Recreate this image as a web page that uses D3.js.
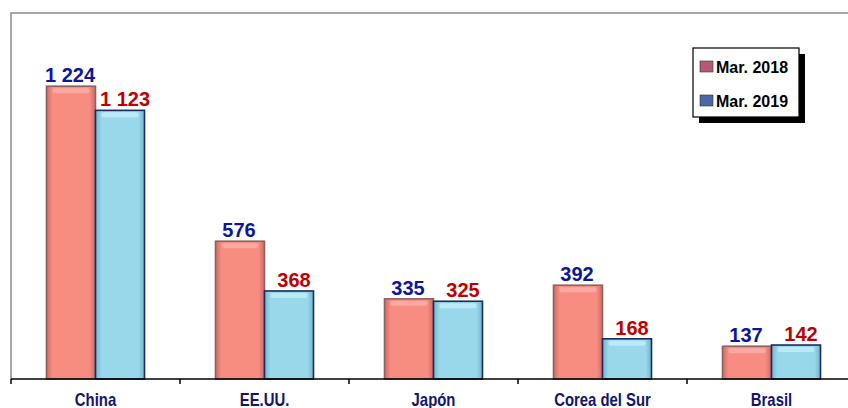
<!DOCTYPE html>
<html>
<head>
<meta charset="utf-8">
<script src="https://cdn.jsdelivr.net/npm/d3@7"></script>
<style>
  html, body { margin: 0; padding: 0; background: #fff; }
  svg { display: block; }
</style>
</head>
<body>
<div id="chart"></div>
<script>
// datos
const categories = ['China', 'EE.UU.', 'Japón', 'Corea del Sur', 'Brasil'];
const seriesNames = ['Mar. 2018', 'Mar. 2019'];
const values2018 = [1224, 576, 335, 392, 137];
const values2019 = [1123, 368, 325, 168, 142];
const valueLabels2018 = ['1 224', '576', '335', '392', '137'];
const valueLabels2019 = ['1 123', '368', '325', '168', '142'];

const W = 848, H = 408;
const plot = { left: 11, top: 13, right: 856, bottom: 379 };

const svg = d3.select('#chart').append('svg')
  .attr('width', W).attr('height', H);

const defs = svg.append('defs');

// gradiente tipo "bisel" para cada serie
function bevel(id, base, edge) {
  const g = defs.append('linearGradient').attr('id', id)
    .attr('x1', 0).attr('x2', 1).attr('y1', 0).attr('y2', 0);
  g.append('stop').attr('offset', '0%').attr('stop-color', edge);
  g.append('stop').attr('offset', '12%').attr('stop-color', base);
  g.append('stop').attr('offset', '88%').attr('stop-color', base);
  g.append('stop').attr('offset', '100%').attr('stop-color', edge);
}
bevel('g2018', '#f78c80', '#d06a66');
bevel('g2019', '#98d8ea', '#72b4cc');

const SERIES = [
  { key: '2018', vals: values2018, labels: valueLabels2018, fill: 'url(#g2018)', stroke: '#8a6262', labelColor: '#0d1599', hi: '#fbb0a8', dx: -1 },
  { key: '2019', vals: values2019, labels: valueLabels2019, fill: 'url(#g2019)', stroke: '#1c2a5c', labelColor: '#c00000', hi: '#c4eef8', dx: 5 },
];

const x0 = d3.scaleBand().domain(categories).range([plot.left, plot.right]).padding(0);
const x1 = d3.scaleBand().domain(SERIES.map(s => s.key)).range([0, 98]);
const y = d3.scaleLinear().domain([0, 1530]).range([plot.bottom, plot.top]);

// marco gris (izquierda y arriba)
svg.append('path')
  .attr('d', `M${plot.left},${plot.bottom} V${plot.top} H${W}`)
  .attr('fill', 'none').attr('stroke', '#8c8c8c').attr('stroke-width', 1.5);

// barras
const groups = svg.append('g').selectAll('g.cat')
  .data(categories)
  .join('g')
  .attr('class', 'cat')
  .attr('transform', d => `translate(${x0(d) + x0.bandwidth() / 2 - 49},0)`);

SERIES.forEach(s => {
  groups.append('rect')
    .attr('x', x1(s.key))
    .attr('y', (d, i) => y(s.vals[i]))
    .attr('width', x1.bandwidth())
    .attr('height', (d, i) => y(0) - y(s.vals[i]))
    .attr('fill', s.fill)
    .attr('stroke', s.stroke)
    .attr('stroke-width', 1.6);

  // brillo superior
  groups.append('rect')
    .attr('x', x1(s.key) + 6)
    .attr('y', (d, i) => y(s.vals[i]) + 2)
    .attr('width', x1.bandwidth() - 12)
    .attr('height', 5)
    .attr('rx', 2)
    .attr('fill', s.hi)
    .attr('opacity', 0.8);

  groups.append('text')
    .attr('x', x1(s.key) + x1.bandwidth() / 2 + s.dx)
    .attr('y', (d, i) => y(s.vals[i]) - 4)
    .attr('text-anchor', 'middle')
    .attr('font-family', 'Liberation Sans, Arial, sans-serif')
    .attr('font-weight', 'bold')
    .attr('font-size', 20)
    .attr('fill', s.labelColor)
    .text((d, i) => s.labels[i]);
});

// eje x
const xAxis = svg.append('g')
  .attr('transform', `translate(0,${plot.bottom})`);
xAxis.append('line')
  .attr('x1', plot.left).attr('x2', W)
  .attr('stroke', '#000').attr('stroke-width', 1.5);
xAxis.selectAll('line.tick')
  .data(categories)
  .join('line')
  .attr('class', 'tick')
  .attr('x1', d => x0(d)).attr('x2', d => x0(d))
  .attr('y1', 0).attr('y2', 5)
  .attr('stroke', '#000').attr('stroke-width', 1.5);
// etiquetas condensadas
xAxis.selectAll('text')
  .data(categories)
  .join('text')
  .attr('transform', d => `translate(${x0(d) + x0.bandwidth() / 2},27) scale(0.85,1)`)
  .attr('text-anchor', 'middle')
  .attr('font-family', 'Liberation Sans, Arial, sans-serif')
  .attr('font-weight', 'bold')
  .attr('font-size', 17.5)
  .attr('fill', '#14146e')
  .text(d => d);

// leyenda
const legend = svg.append('g').attr('transform', 'translate(693,48)');
legend.append('rect')
  .attr('x', 6).attr('y', 6).attr('width', 106).attr('height', 69)
  .attr('fill', '#000');
legend.append('rect')
  .attr('width', 106).attr('height', 69)
  .attr('fill', '#fff').attr('stroke', '#000').attr('stroke-width', 1.2);
const swatch = ['#b45a72', '#4a68a4'];
const li = legend.selectAll('g.item')
  .data(seriesNames)
  .join('g')
  .attr('class', 'item')
  .attr('transform', (d, i) => `translate(7,${19 + i * 34})`);
li.append('rect')
  .attr('y', -6).attr('width', 13).attr('height', 11)
  .attr('fill', (d, i) => swatch[i])
  .attr('stroke', '#333').attr('stroke-width', 0.6);
li.append('text')
  .attr('x', 16).attr('dy', '0.36em')
  .attr('font-family', 'Liberation Sans, Arial, sans-serif')
  .attr('font-weight', 'bold')
  .attr('font-size', 16)
  .attr('fill', '#000')
  .text(d => d);
</script>
</body>
</html>
